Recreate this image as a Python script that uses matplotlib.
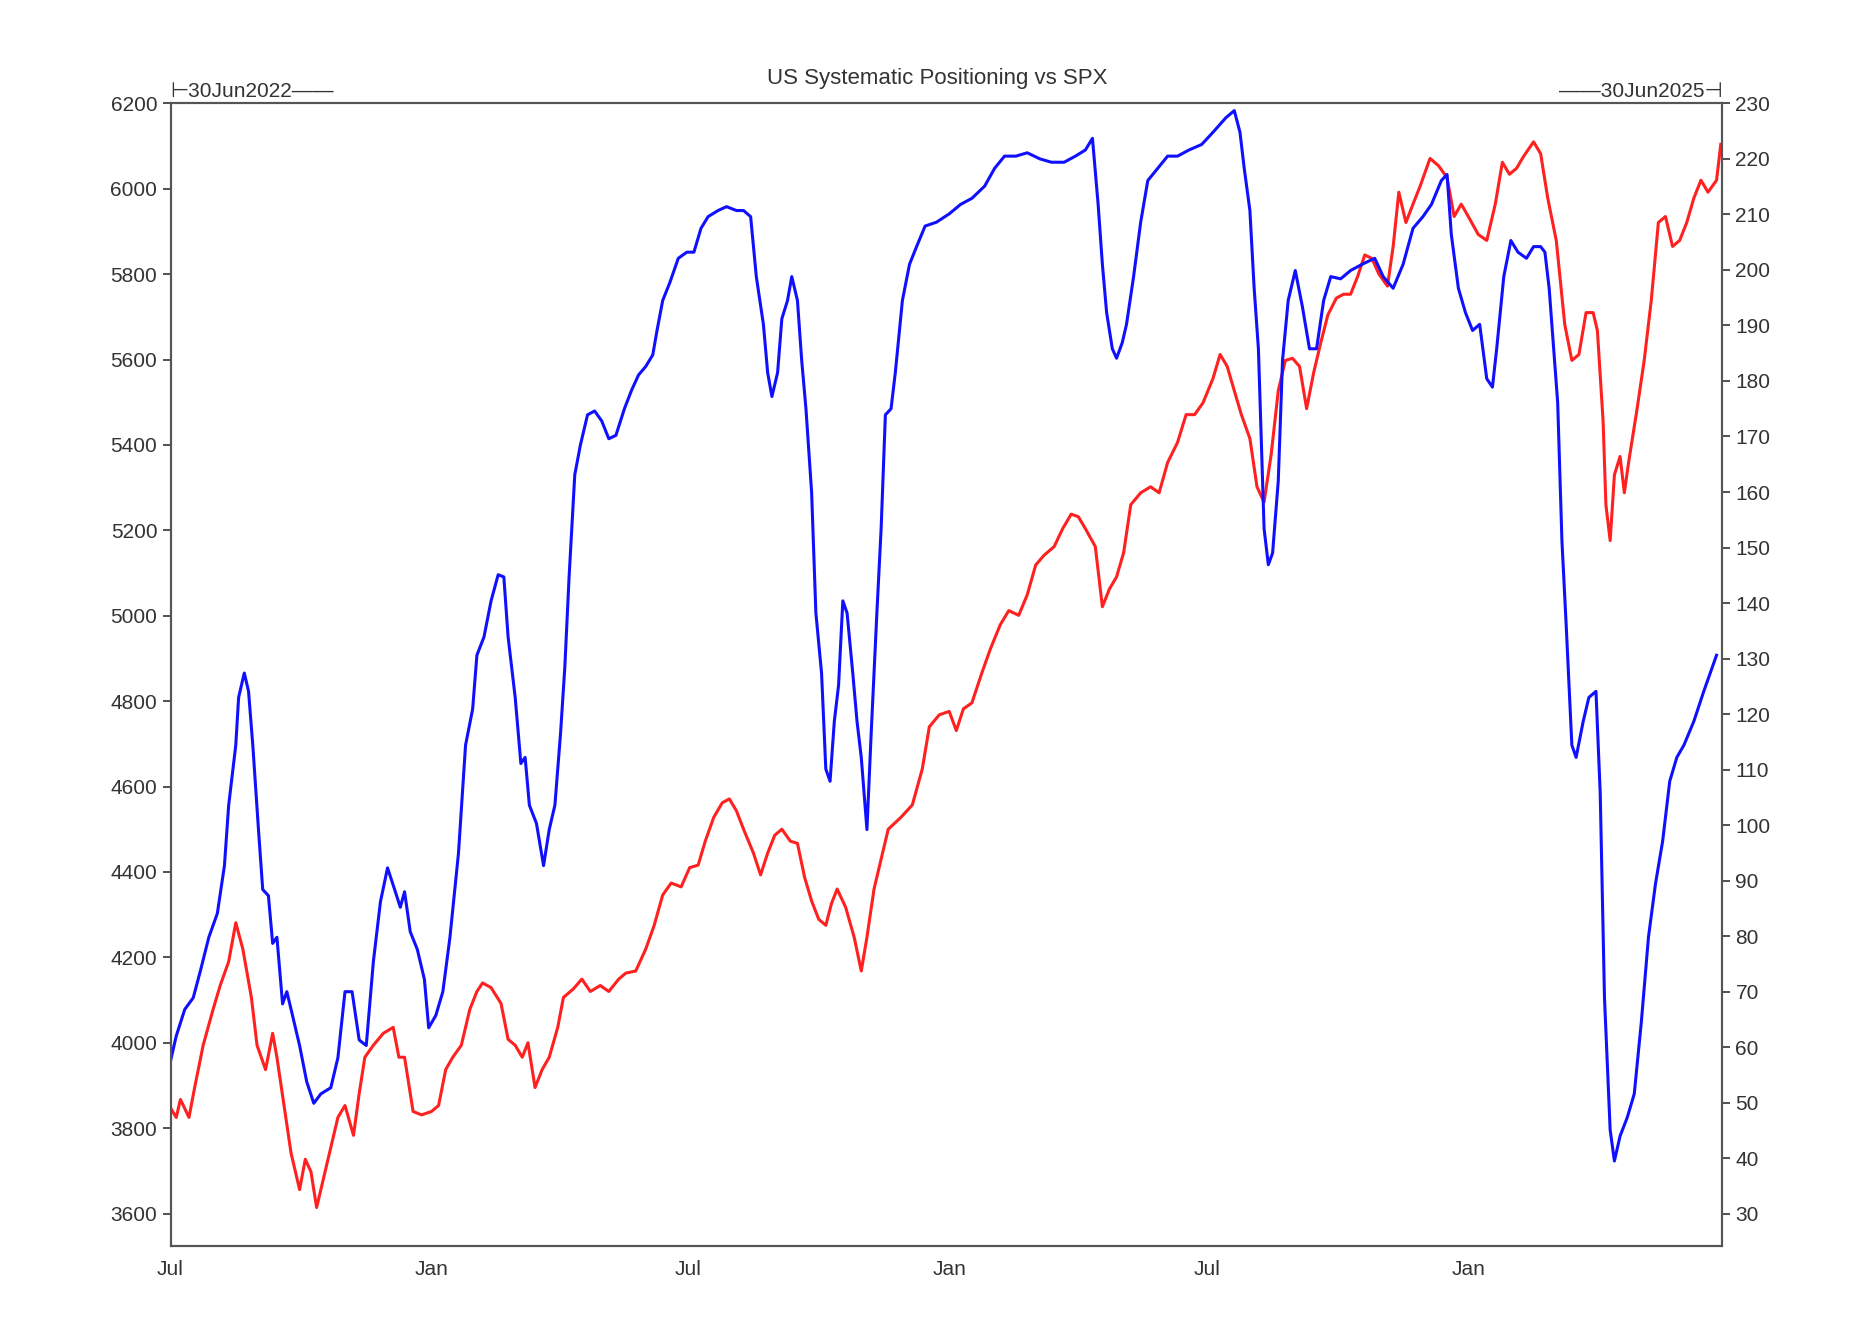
import numpy as np
import matplotlib
matplotlib.use("Agg")
import matplotlib.pyplot as plt
import matplotlib.dates as mdates

plt.rcParams['font.family'] = ['Liberation Sans', 'DejaVu Sans']

start = np.datetime64("2022-06-30")

# SPX (left axis): days since 30Jun2022, level
spx_days = [0, 5, 8, 14, 18, 24, 31, 36, 42, 47, 52, 58, 62, 68, 73, 76, 81, 86, 92, 96, 100, 104, 109, 114,
            119, 124, 130, 134, 138, 144, 151, 158, 162, 166, 172, 178, 185, 190, 195, 200, 206, 212, 217, 221,
            227, 234, 239, 244, 249, 253, 258, 263, 268, 274, 278, 285, 291, 297, 304, 310, 317, 322, 329, 336,
            342, 348, 354, 361, 367, 373, 378, 384, 390, 395, 400, 405, 412, 417, 422, 427, 432, 438, 443, 448,
            453, 458, 463, 467, 471, 477, 483, 488, 492, 497, 501, 507, 516, 524, 531, 536, 543, 550, 555, 560,
            566, 573, 579, 586, 592, 599, 605, 611, 617, 624, 630, 636, 641, 646, 653, 658, 663, 668, 673, 678,
            685, 692, 698, 704, 711, 717, 723, 729, 736, 741, 746, 751, 756, 762, 767, 772, 777, 782, 787, 792,
            797, 802, 807, 812, 817, 823, 828, 833, 838, 843, 848, 853, 859, 863, 867, 872, 877, 882, 889, 895,
            901, 906, 911, 916, 923, 929, 935, 940, 945, 950, 955, 962, 967, 972, 978, 984, 989, 994, 999, 1004,
            1007, 1011, 1013, 1016, 1019, 1023, 1026, 1029, 1035, 1040, 1045, 1050, 1055, 1060, 1065, 1070, 1075,
            1080, 1085, 1091, 1094]
spx_vals = [3853, 3825, 3867, 3825, 3895, 3994, 4078, 4134, 4190, 4281, 4219, 4106, 3994, 3937, 4022, 3966,
            3853, 3741, 3656, 3727, 3698, 3614, 3684, 3755, 3825, 3853, 3783, 3881, 3966, 3994, 4022, 4036,
            3966, 3966, 3839, 3831, 3839, 3853, 3937, 3966, 3994, 4078, 4120, 4140, 4129, 4092, 4008, 3994,
            3966, 4000, 3895, 3937, 3966, 4036, 4106, 4126, 4149, 4120, 4134, 4120, 4149, 4163, 4168, 4219,
            4275, 4346, 4374, 4365, 4410, 4416, 4472, 4528, 4562, 4571, 4543, 4500, 4444, 4393, 4444, 4486,
            4500, 4472, 4467, 4388, 4332, 4289, 4275, 4326, 4360, 4317, 4247, 4168, 4247, 4360, 4416, 4500,
            4528, 4557, 4641, 4740, 4768, 4776, 4731, 4782, 4796, 4866, 4922, 4979, 5012, 5001, 5049, 5119,
            5142, 5162, 5204, 5238, 5232, 5204, 5162, 5021, 5063, 5091, 5148, 5260, 5288, 5302, 5288, 5359,
            5406, 5471, 5471, 5499, 5556, 5612, 5584, 5527, 5471, 5415, 5302, 5266, 5378, 5527, 5598, 5603,
            5584, 5485, 5570, 5640, 5705, 5744, 5753, 5753, 5795, 5845, 5837, 5800, 5772, 5865, 5992, 5921,
            5964, 6006, 6071, 6054, 6026, 5935, 5964, 5935, 5893, 5879, 5964, 6062, 6034, 6048, 6076, 6110,
            6082, 5978, 5879, 5682, 5598, 5612, 5710, 5710, 5668, 5457, 5260, 5176, 5330, 5373, 5288, 5359,
            5485, 5598, 5739, 5921, 5935, 5865, 5879, 5921, 5978, 6020, 5992, 6020, 6104]

# Systematic positioning (right axis)
pos_days = [0, 5, 11, 17, 22, 28, 34, 39, 42, 47, 49, 53, 56, 59, 63, 66, 70, 73, 76, 80, 83, 86, 92, 97, 102,
            107, 114, 119, 124, 129, 134, 139, 144, 149, 154, 159, 163, 166, 170, 175, 180, 183, 188, 193, 198,
            204, 209, 214, 217, 222, 227, 232, 236, 239, 244, 248, 251, 254, 259, 264, 268, 272, 276, 279, 282,
            286, 290, 295, 300, 305, 310, 315, 321, 326, 331, 336, 341, 344, 348, 353, 359, 365, 370, 375, 380,
            387, 393, 400, 405, 410, 414, 419, 422, 425, 429, 432, 436, 439, 443, 446, 449, 453, 456, 460, 463,
            466, 469, 472, 475, 478, 482, 485, 488, 492, 495, 499, 502, 505, 509, 512, 517, 522, 527, 533, 541,
            550, 558, 566, 575, 582, 589, 597, 605, 614, 622, 631, 639, 646, 651, 655, 658, 661, 665, 668, 672,
            675, 680, 685, 690, 697, 704, 711, 719, 728, 736, 745, 751, 755, 758, 762, 765, 768, 772, 775, 778,
            782, 785, 789, 794, 799, 804, 809, 814, 819, 826, 833, 841, 850, 856, 863, 870, 877, 884, 890, 897,
            901, 904, 909, 914, 919, 924, 929, 933, 936, 941, 946, 951, 957, 962, 967, 970, 973, 979, 982, 985,
            989, 992, 997, 1001, 1006, 1009, 1012, 1016, 1019, 1023, 1028, 1033, 1038, 1043, 1048, 1053, 1058,
            1063, 1068, 1075, 1082, 1091]
pos_vals = [56.4, 62.0, 66.8, 68.9, 73.7, 79.8, 84.1, 92.7, 103.6, 114.4, 123.0, 127.4, 124.1, 114.4, 99.2,
            88.4, 87.3, 78.7, 79.8, 67.8, 70.0, 66.8, 60.3, 53.8, 49.9, 51.6, 52.7, 58.1, 70.0, 70.0, 61.3,
            60.3, 75.4, 86.2, 92.3, 88.4, 85.2, 88.0, 80.8, 77.6, 72.2, 63.5, 65.7, 70.0, 79.8, 94.9, 114.4,
            120.9, 130.6, 133.9, 140.4, 145.1, 144.7, 133.9, 123.0, 111.1, 112.2, 103.6, 100.3, 92.7, 99.2,
            103.6, 116.6, 128.5, 144.7, 163.1, 168.5, 173.9, 174.6, 172.8, 169.6, 170.2, 175.0, 178.3, 181.1,
            182.6, 184.7, 189.1, 194.5, 197.7, 202.1, 203.2, 203.2, 207.5, 209.6, 210.7, 211.4, 210.7, 210.7,
            209.6, 198.8, 190.2, 181.5, 177.2, 181.5, 191.2, 194.5, 198.8, 194.5, 183.7, 175.0, 159.9, 138.2,
            127.4, 110.1, 107.9, 118.7, 125.2, 140.4, 138.2, 127.4, 118.7, 112.2, 99.2, 116.6, 138.2, 153.4,
            173.9, 175.0, 181.5, 194.5, 201.0, 204.2, 207.9, 208.6, 210.1, 211.8, 212.9, 215.1, 218.3, 220.5,
            220.5, 221.1, 220.0, 219.4, 219.4, 220.5, 221.6, 223.7, 211.8, 201.0, 192.3, 185.8, 184.1, 186.9,
            190.2, 198.8, 208.6, 216.1, 218.3, 220.5, 220.5, 221.6, 222.6, 224.8, 227.4, 228.7, 224.8, 218.3,
            210.7, 196.7, 185.8, 153.4, 146.9, 149.0, 162.0, 183.7, 194.5, 199.9, 193.4, 185.8, 185.8, 194.5,
            198.8, 198.4, 199.9, 201.0, 202.1, 198.8, 196.7, 201.0, 207.5, 209.6, 211.8, 216.1, 217.2, 206.4,
            196.7, 192.3, 189.1, 190.2, 180.4, 178.9, 185.8, 198.8, 205.3, 203.2, 202.1, 204.2, 204.2, 203.2,
            196.7, 176.1, 151.2, 136.0, 114.4, 112.2, 118.7, 123.0, 124.1, 105.7, 68.9, 45.1, 39.5, 44.0, 47.3,
            51.6, 64.6, 79.8, 89.5, 97.1, 107.9, 112.2, 114.4, 118.7, 124.1, 130.6]

spx_dates = start + np.array(spx_days).astype("timedelta64[D]")
pos_dates = start + np.array(pos_days).astype("timedelta64[D]")

txt = "#333333"
fig = plt.figure(figsize=(18.74, 13.34), dpi=100)
ax = fig.add_axes([0.091, 0.066, 0.828, 0.8565])
ax2 = ax.twinx()

ax.plot(spx_dates, spx_vals, color="#ff2020", lw=2.2)
ax2.plot(pos_dates, pos_vals, color="#1010ff", lw=2.2)

ax.set_xlim(np.datetime64("2022-07-01"), np.datetime64("2025-06-29"))
ax.set_ylim(3524, 6200)
ax2.set_ylim(24.2, 230)
ax.set_yticks(np.arange(3600, 6201, 200))
ax2.set_yticks(np.arange(30, 231, 10))

ax.xaxis.set_major_locator(mdates.MonthLocator(bymonth=[1, 7]))
ax.xaxis.set_major_formatter(mdates.DateFormatter("%b"))

for a in (ax, ax2):
    a.tick_params(labelsize=15, colors=txt, length=6, width=1.2)
    for s in a.spines.values():
        s.set_color("#555555")
        s.set_linewidth(1.5)
ax.tick_params(axis="x", length=0, pad=10)

fig.text(0.5, 0.937, "US Systematic Positioning vs SPX", ha="center", fontsize=16, color=txt)
fig.text(0.091, 0.927, "\u22a230Jun2022\u2014\u2014", ha="left", fontsize=15, color=txt)
fig.text(0.919, 0.927, "\u2014\u201430Jun2025\u22a3", ha="right", fontsize=15, color=txt)

fig.savefig("out.png", dpi=100)
